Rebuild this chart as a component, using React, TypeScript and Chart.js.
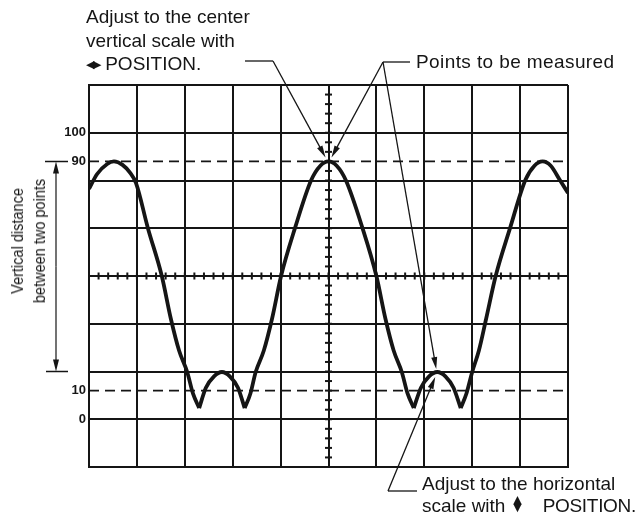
import React, { useEffect, useRef } from 'react';
import { Chart, registerables } from 'chart.js';

Chart.register(...registerables);

// ---- scale definitions (x in screen divisions, y in percent of amplitude) ----
const X_MIN = 0;
const X_MAX = 10;
const Y_DIV = 100 / 6;
const Y_MIN = -Y_DIV;
const Y_MAX = 100 + Y_DIV;
const Y_TICK_VALUES = [0, 10, 90, 100];
const Y_TICK_LABELS = ['0', '10', '90', '100'];
const REF_LEVELS = [90, 10];

// ---- waveform, split at the sharp notches ----
const ARC1_X = [0, 0.17, 0.38, 0.52, 0.70, 0.86, 0.98, 1.23, 1.52, 1.71, 1.88, 2.05, 2.17, 2.30];
const ARC1_Y = [80.4, 85.6, 89.1, 90, 88.8, 86, 82.5, 66.7, 50, 35, 24, 16.5, 9, 3.9];

const ARC2_X = [2.30, 2.44, 2.61, 2.775, 2.94, 3.11, 3.25];
const ARC2_Y = [3.9, 11, 15, 16.5, 15, 11, 3.9];

const ARC3_X = [3.25, 3.37, 3.48, 3.65, 3.82, 4.01, 4.30, 4.64, 4.83, 5.0, 5.17, 5.36, 5.71, 6.0, 6.19, 6.36, 6.53, 6.65, 6.78];
const ARC3_Y = [3.9, 9, 16.5, 24, 35, 50, 66.7, 83.5, 88.5, 90, 88.5, 83.5, 66.7, 50, 35, 24, 16.5, 9, 3.9];

const ARC4_X = [6.78, 6.93, 7.10, 7.27, 7.44, 7.61, 7.76];
const ARC4_Y = [3.9, 11, 15, 16.5, 15, 11, 3.9];

const ARC5_X = [7.76, 7.88, 8.0, 8.14, 8.29, 8.49, 8.79, 9.11, 9.30, 9.47, 9.64, 9.83, 10];
const ARC5_Y = [3.9, 9, 16.5, 24, 35, 50, 66.7, 83.5, 88.5, 90, 88.5, 83.5, 79];

// points the annotations refer to
const CENTER_PEAK = { x: 5.0, y: 90 };
const RIGHT_HUMP = { x: 7.27, y: 16.5 };

const INK = '#151515';

const zip = (xs: number[], ys: number[]) => xs.map((x, i) => ({ x, y: ys[i] }));
const near = (a: number, b: number) => Math.abs(a - b) < 1e-6;

function arrow(ctx: CanvasRenderingContext2D, x1: number, y1: number, x2: number, y2: number) {
  const L = 12;
  const w = 3;
  const a = Math.atan2(y2 - y1, x2 - x1);
  const c = Math.cos(a);
  const s = Math.sin(a);
  ctx.beginPath();
  ctx.moveTo(x1, y1);
  ctx.lineTo(x2 - c * 6, y2 - s * 6);
  ctx.stroke();
  ctx.beginPath();
  ctx.moveTo(x2, y2);
  ctx.lineTo(x2 - L * c + w * s, y2 - L * s - w * c);
  ctx.lineTo(x2 - L * c - w * s, y2 - L * s + w * c);
  ctx.closePath();
  ctx.fill();
}

const overlayPlugin = {
  id: 'overlay',
  afterDatasetsDraw(chart: any) {
    const { ctx } = chart;
    const xs = chart.scales.x;
    const ys = chart.scales.y;
    ctx.save();
    ctx.strokeStyle = INK;
    ctx.fillStyle = INK;

    // minor ticks on the centre graticule lines
    ctx.lineWidth = 2;
    const cx = xs.getPixelForValue((X_MIN + X_MAX) / 2);
    const cy = ys.getPixelForValue(50);
    for (let k = 0; k <= 40; k++) {
      const py = ys.getPixelForValue(Y_MIN + (k * Y_DIV) / 5);
      ctx.beginPath();
      ctx.moveTo(cx - 3.5, py);
      ctx.lineTo(cx + 3.5, py);
      ctx.stroke();
    }
    for (let k = 0; k <= 50; k++) {
      const px = xs.getPixelForValue(X_MIN + k * 0.2);
      ctx.beginPath();
      ctx.moveTo(px, cy - 3.5);
      ctx.lineTo(px, cy + 3.5);
      ctx.stroke();
    }

    // leader lines and arrows
    ctx.lineWidth = 1.3;
    const pkx = xs.getPixelForValue(CENTER_PEAK.x);
    const pky = ys.getPixelForValue(CENTER_PEAK.y);
    const hx = xs.getPixelForValue(RIGHT_HUMP.x);
    const hy = ys.getPixelForValue(RIGHT_HUMP.y);

    // "Adjust to the center vertical scale"
    ctx.beginPath();
    ctx.moveTo(245, 61);
    ctx.lineTo(273, 61);
    ctx.stroke();
    arrow(ctx, 273, 61, pkx - 3, pky - 4);

    // "Points to be measured"
    ctx.beginPath();
    ctx.moveTo(383, 62);
    ctx.lineTo(410, 62);
    ctx.stroke();
    arrow(ctx, 383, 62, pkx + 3, pky - 4);
    arrow(ctx, 383, 62, hx - 1, hy - 3);

    // "Adjust to the horizontal scale"
    ctx.beginPath();
    ctx.moveTo(417, 491);
    ctx.lineTo(388, 491);
    ctx.stroke();
    arrow(ctx, 388, 491, hx - 2, hy + 5);

    // vertical distance marker
    const vTop = ys.getPixelForValue(90);
    const vBot = ys.getPixelForValue(Y_DIV);
    ctx.lineWidth = 1.5;
    ctx.beginPath();
    ctx.moveTo(45, vTop);
    ctx.lineTo(68, vTop);
    ctx.moveTo(46, vBot);
    ctx.lineTo(68, vBot);
    ctx.stroke();
    ctx.lineWidth = 1.2;
    const mid = (vTop + vBot) / 2;
    arrow(ctx, 56, mid, 56, vTop);
    arrow(ctx, 56, mid, 56, vBot);
    ctx.restore();
  },
};

export default function App() {
  const ref = useRef<HTMLCanvasElement | null>(null);

  useEffect(() => {
    if (!ref.current) return;
    const wave = (xs: number[], ys: number[]) => ({
      data: zip(xs, ys),
      borderColor: INK,
      borderWidth: 3.8,
      pointRadius: 0,
      cubicInterpolationMode: 'monotone' as const,
      fill: false,
    });
    const refLine = (level: number) => ({
      data: [
        { x: X_MIN, y: level },
        { x: X_MAX, y: level },
      ],
      borderColor: INK,
      borderWidth: 1.8,
      borderDash: [10, 6],
      pointRadius: 0,
      fill: false,
    });

    const chart = new Chart(ref.current, {
      type: 'line',
      data: {
        datasets: [
          ...REF_LEVELS.map(refLine),
          wave(ARC1_X, ARC1_Y),
          wave(ARC2_X, ARC2_Y),
          wave(ARC3_X, ARC3_Y),
          wave(ARC4_X, ARC4_Y),
          wave(ARC5_X, ARC5_Y),
        ],
      },
      options: {
        responsive: false,
        animation: false,
        events: [],
        layout: { padding: { left: 0, top: 85, right: 71, bottom: 50 } },
        plugins: {
          legend: { display: false },
          tooltip: { enabled: false },
        },
        scales: {
          x: {
            type: 'linear',
            min: X_MIN,
            max: X_MAX,
            ticks: { stepSize: 1, display: false },
            grid: { color: INK, lineWidth: 2, drawTicks: false },
            border: { color: INK, width: 2 },
            afterFit: (s: any) => {
              s.height = 0;
            },
          },
          y: {
            type: 'linear',
            min: Y_MIN,
            max: Y_MAX,
            afterBuildTicks: (s: any) => {
              const vals: number[] = [];
              for (let k = 0; k <= 8; k++) vals.push(Y_MIN + k * Y_DIV);
              REF_LEVELS.forEach((v) => vals.push(v));
              vals.sort((a, b) => a - b);
              s.ticks = vals.map((v) => ({ value: v }));
            },
            afterFit: (s: any) => {
              s.width = 89;
            },
            ticks: {
              padding: 3,
              color: INK,
              font: { family: '"Liberation Sans", Arial, sans-serif', size: 13, weight: 'bold' },
              callback: (v: any) => {
                const i = Y_TICK_VALUES.findIndex((t) => near(t, Number(v)));
                return i >= 0 ? Y_TICK_LABELS[i] : '';
              },
            },
            grid: {
              lineWidth: 2,
              drawTicks: false,
              color: (c: any) =>
                REF_LEVELS.some((r) => near(r, c.tick?.value)) ? 'rgba(0,0,0,0)' : INK,
            },
            border: { color: INK, width: 2 },
          },
        },
      },
      plugins: [overlayPlugin],
    });
    return () => chart.destroy();
  }, []);

  const font = '"Liberation Sans", Arial, Helvetica, sans-serif';
  const sym = '"DejaVu Sans", sans-serif';

  return (
    <div
      style={{
        position: 'absolute',
        left: 0,
        top: 0,
        width: 639,
        height: 517,
        background: '#fff',
        fontFamily: font,
        color: INK,
        overflow: 'hidden',
      }}
    >
      <canvas ref={ref} width={639} height={517} style={{ position: 'absolute', left: 0, top: 0 }} />

      <div style={{ position: 'absolute', left: 86, top: 5, fontSize: 19, lineHeight: '23.5px', whiteSpace: 'nowrap' }}>
        Adjust to the center
        <br />
        vertical scale with
        <br />
        <span style={{ fontFamily: sym, fontSize: 11, letterSpacing: -1.5, verticalAlign: 2 }}>◀▶</span> POSITION.
      </div>

      <div style={{ position: 'absolute', left: 416, top: 51, fontSize: 19, lineHeight: '22px', whiteSpace: 'nowrap', letterSpacing: 0.4 }}>
        Points to be measured
      </div>

      <div style={{ position: 'absolute', left: 422, top: 473, fontSize: 19, lineHeight: '22px', whiteSpace: 'nowrap' }}>
        Adjust to the horizontal
      </div>
      <div style={{ position: 'absolute', left: 422, top: 495, fontSize: 19, lineHeight: '22px', whiteSpace: 'nowrap' }}>
        scale with
      </div>
      <div
        style={{
          position: 'absolute',
          left: 512,
          top: 496,
          fontFamily: sym,
          fontSize: 11,
          lineHeight: '8px',
          textAlign: 'center',
          width: 11,
        }}
      >
        ▲
        <br />▼
      </div>
      <div style={{ position: 'absolute', right: 3, top: 495, fontSize: 19, lineHeight: '22px', whiteSpace: 'nowrap', letterSpacing: -0.3 }}>
        POSITION.
      </div>

      <div
        style={{
          position: 'absolute',
          left: 27.5 - 80,
          top: 241 - 22,
          width: 160,
          height: 44,
          fontSize: 16.5,
          lineHeight: '22px',
          textAlign: 'center',
          whiteSpace: 'nowrap',
          transform: 'rotate(-90deg) scaleX(0.88)',
          transformOrigin: '50% 50%',
        }}
      >
        Vertical distance
        <br />
        between two points
      </div>
    </div>
  );
}
